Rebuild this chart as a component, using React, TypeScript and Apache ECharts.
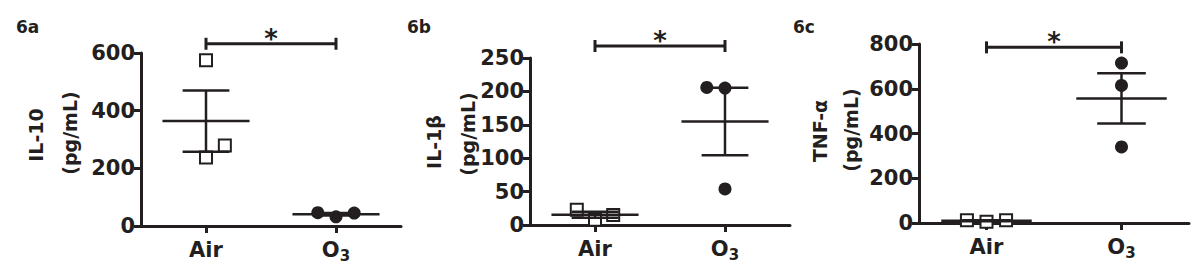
import React, { useEffect, useRef } from "react";
import * as echarts from "echarts";

// ---- data ----
const groupNames = ["Air", "O3"];
const groupCenters = [0.5, 1.5];
const panelLabels = ["6a", "6b", "6c"];
const yTitles = ["IL-10", "IL-1β", "TNF-α"];
const yUnit = "(pg/mL)";
const yMax = [600, 250, 800];
const yInterval = [200, 50, 200];

const il10Air = [575, 279, 238];
const il10O3 = [46, 32, 45];
const il1bAir = [23, 8, 15];
const il1bO3 = [206, 205, 54];
const tnfAir = [12, 6, 12];
const tnfO3 = [715, 615, 340];

// horizontal jitter of the points (category units)
const il10AirJitter = [0, 0.145, 0];
const il10O3Jitter = [-0.14, 0, 0.14];
const il1bAirJitter = [-0.14, 0, 0.14];
const il1bO3Jitter = [-0.14, 0, 0];
const tnfAirJitter = [-0.145, 0, 0.145];
const tnfO3Jitter = [0, 0, 0];

// significance bracket level (data units) and marker text
const bracketLevels = [632, 268, 785];
const sigMark = "*";

const airSets = [il10Air, il1bAir, tnfAir];
const o3Sets = [il10O3, il1bO3, tnfO3];
const airJit = [il10AirJitter, il1bAirJitter, tnfAirJitter];
const o3Jit = [il10O3Jitter, il1bO3Jitter, tnfO3Jitter];

// ---- layout / style ----
const INK = "#231f20";
const FONT = "DejaVu Sans";
const grids = [
  { left: 141, top: 53, width: 260, height: 173 },
  { left: 530, top: 58, width: 260, height: 167 },
  { left: 919, top: 44, width: 270, height: 179 },
];
const panelLabelPos = [
  [16, 18],
  [407, 18],
  [793, 18],
];
const titlePos = [
  { t: [36, 135], u: [70, 133] },
  { t: [434, 142], u: [468, 134] },
  { t: [820, 131], u: [851, 130] },
];
const MEAN_HALF = 0.335;
const CAP_HALF = 0.18;

function mean(a: number[]) {
  return a.reduce((s, v) => s + v, 0) / a.length;
}
function sem(a: number[]) {
  const m = mean(a);
  const v = a.reduce((s, x) => s + (x - m) * (x - m), 0) / (a.length - 1);
  return Math.sqrt(v) / Math.sqrt(a.length);
}

export default function App() {
  const ref = useRef<HTMLDivElement>(null);
  useEffect(() => {
    document.body.style.margin = "0";
    const chart = echarts.init(ref.current!, null, { renderer: "svg" });

    const xAxis: any[] = [];
    const yAxis: any[] = [];
    const series: any[] = [];
    const graphic: any[] = [];

    for (let i = 0; i < 3; i++) {
      xAxis.push({
        type: "value",
        gridIndex: i,
        min: 0,
        max: 2,
        splitLine: { show: false },
        axisLine: { show: true, lineStyle: { color: INK, width: 3 } },
        axisTick: {
          show: true,
          customValues: groupCenters,
          length: 7,
          lineStyle: { color: INK, width: 3 },
        },
        axisLabel: {
          customValues: groupCenters,
          margin: 13,
          formatter: (v: number) =>
            v < 1 ? "{o|" + groupNames[0] + "}" : "{o|O}{s|3}",
          rich: {
            o: {
              fontFamily: FONT,
              fontWeight: "bold",
              fontSize: 21,
              lineHeight: 22,
              color: INK,
              verticalAlign: "top",
            },
            s: {
              fontFamily: FONT,
              fontWeight: "bold",
              fontSize: 15,
              lineHeight: 24,
              color: INK,
              verticalAlign: "bottom",
            },
          },
        },
      });
      yAxis.push({
        type: "value",
        gridIndex: i,
        min: 0,
        max: yMax[i],
        interval: yInterval[i],
        splitLine: { show: false },
        axisLine: { show: true, lineStyle: { color: INK, width: 3 } },
        axisTick: { show: true, length: 7, lineStyle: { color: INK, width: 3 } },
        axisLabel: {
          margin: 6,
          fontFamily: FONT,
          fontWeight: "bold",
          fontSize: 21,
          color: INK,
          padding: [4, 0, 0, 0],
        },
      });

      const air = airSets[i];
      const o3 = o3Sets[i];
      series.push({
        type: "scatter",
        xAxisIndex: i,
        yAxisIndex: i,
        symbol: "rect",
        symbolSize: 12,
        itemStyle: { color: "#ffffff", borderColor: INK, borderWidth: 2, opacity: 1 },
        data: air.map((v, k) => [groupCenters[0] + airJit[i][k], v]),
        z: 2,
      });
      series.push({
        type: "scatter",
        xAxisIndex: i,
        yAxisIndex: i,
        symbol: "circle",
        symbolSize: 13,
        itemStyle: { color: INK, opacity: 1 },
        data: o3.map((v, k) => [groupCenters[1] + o3Jit[i][k], v]),
        z: 2,
      });
      series.push({
        type: "custom",
        xAxisIndex: i,
        yAxisIndex: i,
        z: 3,
        encode: { x: 0, y: 1 },
        data: [
          [groupCenters[0], mean(air), sem(air)],
          [groupCenters[1], mean(o3), sem(o3)],
        ],
        renderItem: (params: any, api: any) => {
          const x = api.value(0);
          const m = api.value(1);
          const s = api.value(2);
          const c = api.coord([x, m]);
          const up = api.coord([x, m + s]);
          const lo = api.coord([x, m - s]);
          const hw = api.size([MEAN_HALF, 0])[0];
          const cw = api.size([CAP_HALF, 0])[0];
          const st = { stroke: INK, lineWidth: 2.5 };
          return {
            type: "group",
            children: [
              { type: "line", shape: { x1: c[0] - hw, y1: c[1], x2: c[0] + hw, y2: c[1] }, style: st },
              { type: "line", shape: { x1: c[0], y1: up[1], x2: c[0], y2: lo[1] }, style: st },
              { type: "line", shape: { x1: c[0] - cw, y1: up[1], x2: c[0] + cw, y2: up[1] }, style: st },
              { type: "line", shape: { x1: c[0] - cw, y1: lo[1], x2: c[0] + cw, y2: lo[1] }, style: st },
            ],
          };
        },
      });
      series.push({
        type: "custom",
        xAxisIndex: i,
        yAxisIndex: i,
        z: 3,
        clip: false,
        encode: { x: 0, y: 2 },
        data: [[groupCenters[0], groupCenters[1], bracketLevels[i]]],
        renderItem: (params: any, api: any) => {
          const p1 = api.coord([api.value(0), api.value(2)]);
          const p2 = api.coord([api.value(1), api.value(2)]);
          const st = { stroke: INK, lineWidth: 3 };
          return {
            type: "group",
            children: [
              { type: "line", shape: { x1: p1[0], y1: p1[1], x2: p2[0], y2: p2[1] }, style: st },
              { type: "line", shape: { x1: p1[0], y1: p1[1] - 6, x2: p1[0], y2: p1[1] + 6 }, style: st },
              { type: "line", shape: { x1: p2[0], y1: p2[1] - 6, x2: p2[0], y2: p2[1] + 6 }, style: st },
              {
                type: "text",
                x: (p1[0] + p2[0]) / 2,
                y: p1[1] - 5,
                style: {
                  text: sigMark,
                  font: `bold 26px "${FONT}"`,
                  fill: INK,
                  align: "center",
                  verticalAlign: "middle",
                },
              },
            ],
          };
        },
      });

      graphic.push({
        type: "text",
        left: panelLabelPos[i][0],
        top: panelLabelPos[i][1],
        style: { text: panelLabels[i], font: `bold 17px "${FONT}"`, fill: INK },
      });
      graphic.push({
        type: "text",
        x: titlePos[i].t[0],
        y: titlePos[i].t[1],
        rotation: Math.PI / 2,
        style: {
          text: yTitles[i],
          font: `bold 19px "${FONT}"`,
          fill: INK,
          align: "center",
          verticalAlign: "middle",
        },
      });
      graphic.push({
        type: "text",
        x: titlePos[i].u[0],
        y: titlePos[i].u[1],
        rotation: Math.PI / 2,
        style: {
          text: yUnit,
          font: `bold 19px "${FONT}"`,
          fill: INK,
          align: "center",
          verticalAlign: "middle",
        },
      });
    }

    chart.setOption({
      animation: false,
      backgroundColor: "#ffffff",
      grid: grids.map((g) => ({ ...g, containLabel: false })),
      xAxis,
      yAxis,
      series,
      graphic,
    });
    return () => chart.dispose();
  }, []);
  return <div ref={ref} style={{ width: 1200, height: 272 }} />;
}
